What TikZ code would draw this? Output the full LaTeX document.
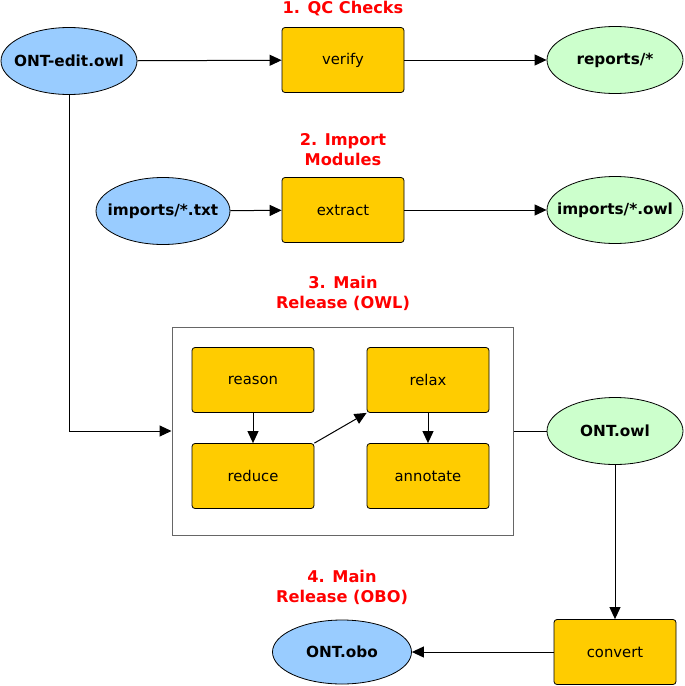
\documentclass[tikz,border=0pt]{standalone}
\usepackage{fontspec}
\setmainfont{DejaVu Sans}
\usetikzlibrary{shapes.geometric,arrows.meta}
\definecolor{boxfill}{HTML}{FFCC00}
\definecolor{bluefill}{HTML}{99CCFF}
\definecolor{greenfill}{HTML}{CCFFCC}
\definecolor{titlered}{HTML}{FF0000}
\newcommand{\fixw}[1]{\makebox[0pt]{#1}}
\tikzset{
  stepbox/.style={draw=black, fill=boxfill, rounded corners=3pt, minimum width=122pt, minimum height=65pt, inner sep=0pt, font=\fontsize{14.8}{17}\selectfont, line width=0.8pt},
  bluefile/.style={draw=black, fill=bluefill, ellipse, minimum width=136pt, minimum height=67pt, inner sep=0pt, font=\bfseries\fontsize{15.3}{17}\selectfont, line width=0.8pt},
  greenfile/.style={draw=black, fill=greenfill, ellipse, minimum width=136pt, minimum height=67pt, inner sep=0pt, font=\bfseries\fontsize{15.3}{17}\selectfont, line width=0.8pt},
  title/.style={text=titlered, font=\bfseries\fontsize{16.2}{20}\selectfont, align=center},
  conn/.style={-{Triangle[length=12pt,width=11pt]}, line width=1pt},
}
\begin{document}
\begin{tikzpicture}[x=1pt,y=-1pt]
\useasboundingbox (0,0) rectangle (685,686);
% row 1
\node[bluefile] (edit) at (69,61) {\fixw{ONT-edit.owl}};
\node[stepbox] (verify) at (343,60) {verify};
\node[greenfile] (reports) at (615,60) {\fixw{reports/*}};
\node[title] (t1) at (343,9) {1. QC Checks};
% row 2
\node[bluefile, minimum width=134pt] (itxt) at (163,211) {\fixw{imports/*.txt}};
\node[stepbox] (extract) at (343,210) {extract};
\node[greenfile] (iowl) at (615,210) {\fixw{imports/*.owl}};
\node[title] (t2) at (343,150) {2. Import\\Modules};
% main release
\node[title] (t3) at (343,293) {3. Main\\Release (OWL)};
\node[draw=black!60, line width=1pt, minimum width=341pt, minimum height=208pt, inner sep=0pt] (main) at (342.5,431) {};
\node[stepbox] (reason) at (253,380) {reason};
\node[stepbox] (reduce) at (253,476) {reduce};
\node[stepbox] (relax) at (428,380) {relax};
\node[stepbox] (annotate) at (428,476) {annotate};
\node[greenfile] (owl) at (615,431) {\fixw{ONT.owl}};
% obo
\node[stepbox] (convert) at (615,652) {convert};
\node[bluefile, minimum width=139pt, minimum height=64pt] (obo) at (342,652) {\fixw{ONT.obo}};
\node[title] (t4) at (342,587) {4. Main\\Release (OBO)};
% connectors
\draw[conn] (edit) -- (verify);
\draw[conn] (verify) -- (reports);
\draw[conn] (itxt) -- (extract);
\draw[conn] (extract) -- (iowl);
\draw[conn] (edit.south) |- (main.west);
\draw[conn] (reason) -- (reduce);
\draw[conn] (reduce.north east) -- (relax.south west);
\draw[conn] (relax) -- (annotate);
\draw[line width=1pt] (main.east) -- (owl.west);
\draw[conn] (owl) -- (convert);
\draw[conn] (convert) -- (obo);
\end{tikzpicture}
\end{document}
